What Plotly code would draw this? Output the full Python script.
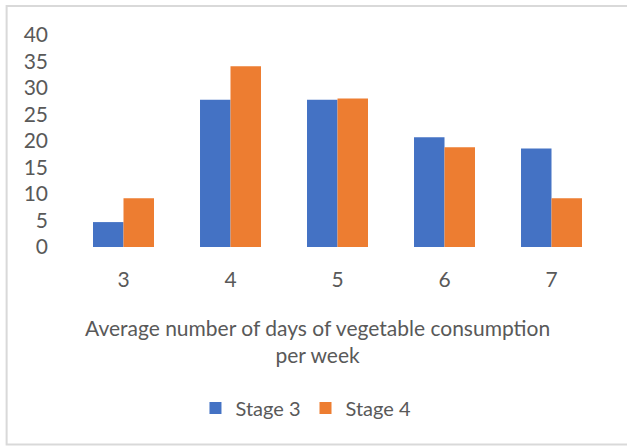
import plotly.graph_objects as go

categories = ["3", "4", "5", "6", "7"]
stage3 = [4.7, 27.8, 27.8, 20.7, 18.6]
stage4 = [9.2, 34.1, 28.0, 18.8, 9.2]
y_ticks = [0, 5, 10, 15, 20, 25, 30, 35, 40]
x_title = "Average number of days of vegetable consumption<br>per week"

FONT = "Lato"
GRAY = "#595959"
FS = 21

L, R, T, B = 69.5, 21.5, 35, 198.7
PW = 627 - L - R
PH = 446 - T - B

fig = go.Figure()
fig.add_trace(go.Bar(x=categories, y=stage3, name="Stage 3",
                     marker=dict(color="#4472C4", line=dict(width=0))))
fig.add_trace(go.Bar(x=categories, y=stage4, name="Stage 4",
                     marker=dict(color="#ED7D31", line=dict(width=0))))

fig.update_layout(
    width=627, height=446,
    margin=dict(l=L, r=R, t=T, b=B, autoexpand=False),
    paper_bgcolor="white", plot_bgcolor="white",
    barmode="group", bargap=0.43, bargroupgap=0,
    font=dict(family=FONT, color=GRAY, size=FS),
    showlegend=True,
    legend=dict(orientation="h", xref="container", x=0.488, xanchor="center",
                yref="container", y=0.085, yanchor="middle",
                font=dict(size=20, color=GRAY), traceorder="normal",
                itemwidth=30),
    xaxis=dict(showgrid=False, showline=False, zeroline=False, ticks="",
               tickfont=dict(size=FS, color=GRAY), ticklabelstandoff=18),
    yaxis=dict(range=[0, 40], tickvals=y_ticks, showgrid=False, showline=False,
               zeroline=False, ticks="", tickfont=dict(size=FS, color=GRAY),
               ticklabelstandoff=21),
    annotations=[dict(text=x_title, xref="paper", yref="paper",
                      x=(317.5 - L) / PW, y=(446 - B - 341) / PH,
                      xanchor="center", yanchor="middle", showarrow=False,
                      align="center", font=dict(size=FS, color=GRAY))],
    shapes=[dict(type="rect", xref="paper", yref="paper", layer="above",
                 x0=(6 - L) / PW, x1=1.2, y0=(446 - B - 445) / PH, y1=(446 - B - 6) / PH,
                 line=dict(color="#D9D9D9", width=2), fillcolor="rgba(0,0,0,0)")],
)

fig.write_html("out.html")
